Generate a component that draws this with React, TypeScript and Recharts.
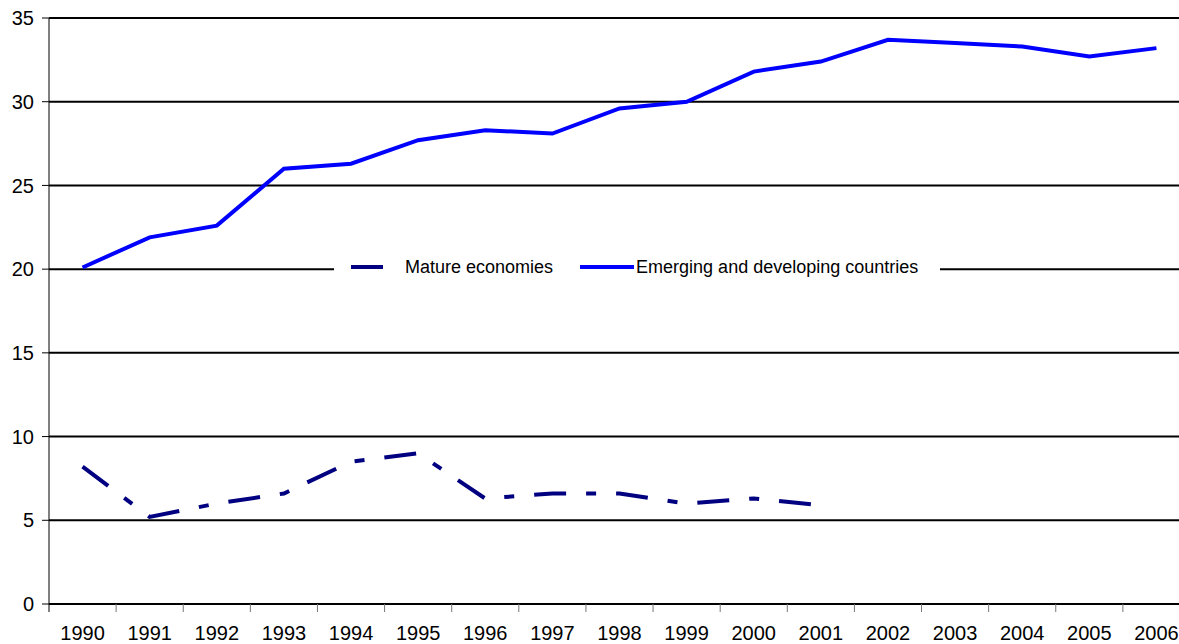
import { LineChart, Line, XAxis, YAxis, CartesianGrid, Legend } from 'recharts'

const years = ['1990', '1991', '1992', '1993', '1994', '1995', '1996', '1997', '1998', '1999', '2000', '2001', '2002', '2003', '2004', '2005', '2006']
const mature = [8.2, 5.2, 6.0, 6.6, 8.5, 9.0, 6.3, 6.6, 6.6, 6.0, 6.3, 5.9, null, null, null, null, null]
const emerging = [20.1, 21.9, 22.6, 26.0, 26.3, 27.7, 28.3, 28.1, 29.6, 30.0, 31.8, 32.4, 33.7, 33.5, 33.3, 32.7, 33.2]
const yTicks = [0, 5, 10, 15, 20, 25, 30, 35]

const series = [
  { key: 'mature', name: 'Mature economies', color: '#000080', dash: '32 20 10 20', legendDash: '32 30' },
  { key: 'emerging', name: 'Emerging and developing countries', color: '#0000ff', dash: undefined, legendDash: undefined },
]

const chartData = years.map((year, i) => ({
  year,
  mature: mature[i],
  emerging: emerging[i],
}))

const LABEL_GAP = 22

// year label centred in its band, with tick marks on the band edges
function YearTick(props: any) {
  const { x, y, payload, index } = props
  const half = payload.offset ?? 0
  const axisY = y - LABEL_GAP
  const last = index === years.length - 1
  return (
    <g>
      <line x1={x - half} y1={axisY} x2={x - half} y2={axisY + 8} stroke={index === 0 ? '#000' : '#777'} strokeWidth={1} />
      {last && <line x1={x + half} y1={axisY} x2={x + half} y2={axisY + 8} stroke="#777" strokeWidth={1} />}
      <text x={x} y={y} dy="0.71em" textAnchor="middle" fill="#000" fontSize={20}>
        {payload.value}
      </text>
    </g>
  )
}

function ChartLegend() {
  return (
    <div style={{ display: 'flex', alignItems: 'center', height: 28, background: '#fff', paddingLeft: 17, fontSize: 18, color: '#000' }}>
      {series.map((s, i) => (
        <div key={s.key} style={{ display: 'flex', alignItems: 'center', marginLeft: i === 0 ? 0 : 27 }}>
          <svg width={54} height={8} style={{ display: 'block' }}>
            <line x1={0} y1={4} x2={54} y2={4} stroke={s.color} strokeWidth={4} strokeDasharray={s.legendDash} />
          </svg>
          <span style={{ marginLeft: i === 0 ? 0 : 2, whiteSpace: 'nowrap' }}>{s.name}</span>
        </div>
      ))}
    </div>
  )
}

export default function App() {
  return (
    <div style={{ position: 'absolute', left: 0, top: 0, width: 1179, height: 644, overflow: 'hidden', background: '#fff', fontFamily: '"Liberation Sans", Arial, sans-serif' }}>
      <LineChart width={1200} height={644} data={chartData} margin={{ top: 18, right: 10, bottom: 0, left: 0 }}>
        <CartesianGrid vertical={false} stroke="#000" strokeWidth={2} />
        <XAxis
          dataKey="year"
          scale="band"
          interval={0}
          height={40}
          tickSize={0}
          tickMargin={LABEL_GAP}
          tickLine={false}
          axisLine={{ stroke: '#000', strokeWidth: 1.5 }}
          tick={YearTick}
        />
        <YAxis
          domain={[0, 35]}
          ticks={yTicks}
          interval={0}
          width={49}
          tickSize={7}
          tickMargin={8}
          axisLine={{ stroke: '#000', strokeWidth: 1 }}
          tickLine={{ stroke: '#000', strokeWidth: 1 }}
          tick={{ fill: '#000', fontSize: 20 }}
        />
        <Legend
          layout="horizontal"
          verticalAlign="middle"
          align="center"
          content={() => <ChartLegend />}
          wrapperStyle={{ left: 334, top: 253, width: 606, height: 28 }}
        />
        {series.map((s) => (
          <Line
            key={s.key}
            type="linear"
            dataKey={s.key}
            name={s.name}
            stroke={s.color}
            strokeWidth={4}
            strokeDasharray={s.dash}
            dot={false}
            activeDot={false}
            isAnimationActive={false}
          />
        ))}
      </LineChart>
    </div>
  )
}
